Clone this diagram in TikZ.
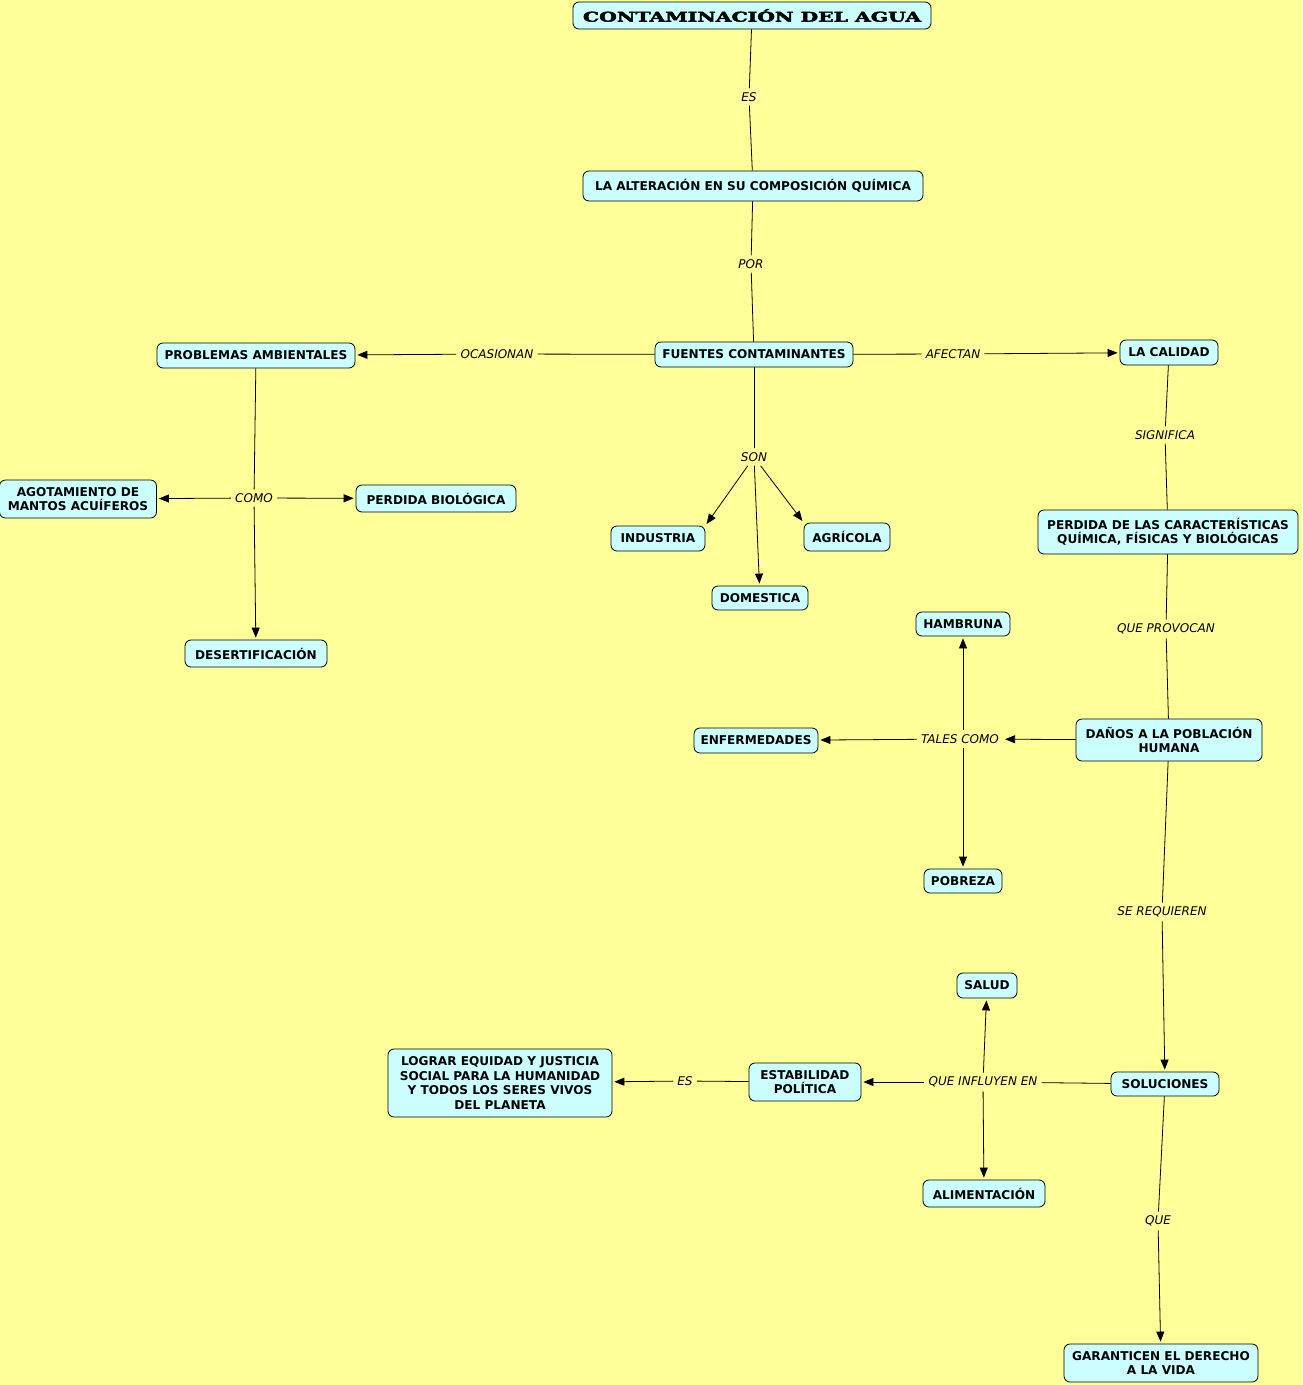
\documentclass[tikz,border=0pt]{standalone}
\usepackage{fontspec}
\setmainfont{DejaVu Sans}
\newfontfamily\titlefont[FakeBold=2.5]{DejaVu Serif}
\usetikzlibrary{arrows.meta}
\definecolor{bgy}{HTML}{FFFF99}
\definecolor{boxc}{HTML}{CCFFFF}
\tikzset{
  cbox/.style={draw=black, line width=0.8pt, fill=boxc, rounded corners=6pt, align=center,
    inner sep=0pt, font=\fontsize{12.1}{14.5}\selectfont\bfseries},
  lab/.style={inner xsep=4pt, inner ysep=4pt, font=\fontsize{12}{13}\selectfont\itshape},
  conn/.style={line width=0.8pt},
  arr/.style={line width=0.8pt, -{Triangle[length=10pt,width=8pt]}, shorten >=2pt}
}
\begin{document}
\begin{tikzpicture}[x=1pt,y=-1pt]
\fill[bgy] (0,0) rectangle (1302,1385);
\useasboundingbox (0,0) rectangle (1302,1385);
% nodes
\node[cbox, minimum width=358pt, minimum height=27pt] (title) at (752,15.5)
  {\raisebox{-1pt}{\titlefont\fontsize{11}{11}\selectfont\resizebox{338pt}{12.5pt}{\bfseries CONTAMINACIÓN DEL AGUA}}};
\node[cbox, minimum width=340pt, minimum height=30pt] (alt) at (753,186) {LA ALTERACIÓN EN SU COMPOSICIÓN QUÍMICA};
\node[cbox, minimum width=198pt, minimum height=25pt] (fue) at (754,354.5) {FUENTES CONTAMINANTES};
\node[cbox, minimum width=198pt, minimum height=25pt] (prob) at (256,355.5) {PROBLEMAS AMBIENTALES};
\node[cbox, minimum width=98pt, minimum height=25pt] (cal) at (1169,352.5) {LA CALIDAD};
\node[cbox, minimum width=157pt, minimum height=38pt] (agot) at (78,499) {AGOTAMIENTO DE\\MANTOS ACUÍFEROS};
\node[cbox, minimum width=160pt, minimum height=27pt] (perd) at (436,498.5) {PERDIDA BIOLÓGICA};
\node[cbox, minimum width=142pt, minimum height=27pt] (des) at (256,653.5) {DESERTIFICACIÓN};
\node[cbox, minimum width=94pt, minimum height=25pt] (ind) at (658,538.5) {INDUSTRIA};
\node[cbox, minimum width=86pt, minimum height=28pt] (agr) at (847,537) {AGRÍCOLA};
\node[cbox, minimum width=96pt, minimum height=24pt] (dom) at (760,598) {DOMESTICA};
\node[cbox, minimum width=260pt, minimum height=44pt] (pcar) at (1168,532) {PERDIDA DE LAS CARACTERÍSTICAS\\QUÍMICA, FÍSICAS Y BIOLÓGICAS};
\node[cbox, minimum width=94pt, minimum height=24pt] (hamb) at (963,624) {HAMBRUNA};
\node[cbox, minimum width=124pt, minimum height=25pt] (enf) at (756,740.5) {ENFERMEDADES};
\node[cbox, minimum width=186pt, minimum height=42pt] (dan) at (1169,740) {DAÑOS A LA POBLACIÓN\\HUMANA};
\node[cbox, minimum width=78pt, minimum height=24pt] (pob) at (963,881) {POBREZA};
\node[cbox, minimum width=60pt, minimum height=25pt] (salud) at (987,985.5) {SALUD};
\node[cbox, minimum width=108pt, minimum height=24pt] (sol) at (1165,1084) {SOLUCIONES};
\node[cbox, minimum width=112pt, minimum height=38pt] (est) at (805,1082) {ESTABILIDAD\\POLÍTICA};
\node[cbox, minimum width=224pt, minimum height=68pt] (log) at (500,1083) {LOGRAR EQUIDAD Y JUSTICIA\\SOCIAL PARA LA HUMANIDAD\\Y TODOS LOS SERES VIVOS\\DEL PLANETA};
\node[cbox, minimum width=122pt, minimum height=27pt] (alim) at (984,1193.5) {ALIMENTACIÓN};
\node[cbox, minimum width=194pt, minimum height=38pt] (gar) at (1161,1363) {GARANTICEN EL DERECHO\\A LA VIDA};
% linking labels
\node[lab] (l1) at (749,97) {ES};
\node[lab] (l2) at (751,264) {POR};
\node[lab] (l3) at (497,354) {OCASIONAN};
\node[lab] (l4) at (953,354) {AFECTAN};
\node[lab] (l5) at (754,457) {SON};
\node[lab] (l6) at (254,498) {COMO};
\node[lab] (l7) at (1165,435) {SIGNIFICA};
\node[lab] (l8) at (1166,629) {QUE PROVOCAN};
\node[lab] (l9) at (960,739) {TALES COMO};
\node[lab] (l10) at (1162,912) {SE REQUIEREN};
\node[lab] (l11) at (983,1082) {QUE INFLUYEN EN};
\node[lab] (l12) at (685,1081) {ES};
\node[lab] (l13) at (1158,1221) {QUE};
% connectors
\draw[conn] (title) -- (l1);
\draw[conn] (l1) -- (alt);
\draw[conn] (alt) -- (l2);
\draw[conn] (l2) -- (fue);
\draw[conn] (fue) -- (l3);
\draw[arr] (l3) -- (prob);
\draw[conn] (fue) -- (l4);
\draw[arr] (l4) -- (cal);
\draw[conn] (fue) -- (l5);
\draw[arr] (l5) -- (ind.north east);
\draw[arr] (l5) -- (dom);
\draw[arr] (l5) -- (agr.north west);
\draw[conn] (prob) -- (l6);
\draw[arr] (l6) -- (agot);
\draw[arr] (l6) -- (perd);
\draw[arr] (l6) -- (des);
\draw[conn] (cal) -- (l7);
\draw[conn] (l7) -- (pcar);
\draw[conn] (pcar) -- (l8);
\draw[conn] (l8) -- (dan);
\draw[arr] (dan) -- (l9);
\draw[arr] (l9.north -| hamb.south) -- (hamb);
\draw[arr] (l9) -- (enf);
\draw[arr] (l9.south -| pob.north) -- (pob);
\draw[conn] (dan) -- (l10);
\draw[arr] (l10) -- (sol);
\draw[conn] (sol) -- (l11);
\draw[arr] (l11) -- (est);
\draw[arr] (l11) -- (salud);
\draw[arr] (l11) -- (alim);
\draw[conn] (est) -- (l12);
\draw[arr] (l12) -- (log);
\draw[conn] (sol) -- (l13);
\draw[arr] (l13) -- (gar);
\end{tikzpicture}
\end{document}
